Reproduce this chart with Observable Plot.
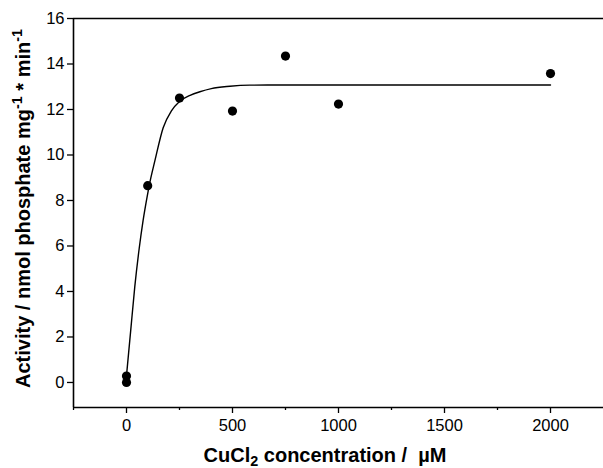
<!DOCTYPE html>
<html><head><meta charset="utf-8">
<script src="https://cdn.jsdelivr.net/npm/d3@7"></script>
<script src="https://cdn.jsdelivr.net/npm/@observablehq/plot@0.6"></script>
<style>body{margin:0;background:#fff}#chart svg{display:block}</style>
</head><body><div id="chart"></div>
<script>
// measured data points
const concentration = [0, 0, 100, 250, 500, 750, 1000, 2000];
const activity = [0.0, 0.28, 8.65, 12.5, 11.93, 14.35, 12.24, 13.58];
// fitted curve
const fitX = [0, 20, 39, 60, 78, 100, 107, 134, 173, 212, 250, 300, 346, 400, 488, 582, 700, 1000, 1500, 2000];
const fitY = [0.3, 2.3, 4.2, 5.9, 7.1, 8.3, 8.65, 9.75, 11.2, 11.94, 12.35, 12.62, 12.78, 12.92, 13.02, 13.07, 13.08, 13.08, 13.08, 13.08];
const xTicks = [0, 500, 1000, 1500, 2000];
const xMinor = [-250, 250, 750, 1250, 1750];
const yTicks = [0, 2, 4, 6, 8, 10, 12, 14, 16];

const points = concentration.map((x, i) => ({x, y: activity[i]}));
const fit = fitX.map((x, i) => ({x, y: fitY[i]}));
const xDomain = [-250, 2250];
const yDomain = [-1.1, 16];

const plot = Plot.plot({
  width: 603, height: 468,
  marginLeft: 73, marginRight: 0, marginTop: 18, marginBottom: 61,
  style: {fontFamily: "Liberation Sans, Arial, sans-serif", fontSize: "16.5px", color: "#000", background: "#fff"},
  x: {domain: xDomain},
  y: {domain: yDomain},
  marks: [
    Plot.axisX({ticks: xTicks, tickFormat: "d", tickSize: 6, tickPadding: 6, label: null, stroke: "#000", strokeWidth: 1.3, fontSize: 16.5}),
    Plot.axisX({ticks: xMinor, tickSize: 3, tickFormat: () => "", label: null, stroke: "#000", strokeWidth: 1.3}),
    Plot.axisY({ticks: yTicks, tickFormat: "d", tickSize: 6, tickPadding: 3, label: null, stroke: "#000", strokeWidth: 1.3, fontSize: 16.5}),
    Plot.ruleY([yDomain[0]], {stroke: "#000", strokeWidth: 1.6}),
    Plot.ruleY([yDomain[1]], {stroke: "#000", strokeWidth: 1.6}),
    Plot.ruleX([xDomain[0]], {stroke: "#000", strokeWidth: 1.6}),
    Plot.line(fit, {x: "x", y: "y", curve: "monotone-x", stroke: "#000", strokeWidth: 1.4}),
    Plot.dot(points, {x: "x", y: "y", r: 4.6, fill: "#000", stroke: "none"})
  ]
});

const svg = d3.select(plot);
// y axis label with superscripts
const yl = svg.append("text")
  .attr("transform", "rotate(-90)")
  .attr("x", -208.5).attr("y", 29.5)
  .attr("text-anchor", "middle")
  .attr("font-family", "Liberation Sans, Arial, sans-serif")
  .attr("font-weight", "bold").attr("font-size", 20).attr("fill", "#000");
yl.append("tspan").text("Activity / nmol phosphate mg");
yl.append("tspan").attr("dy", "-0.5em").attr("font-size", "0.72em").text("-1");
yl.append("tspan").attr("dy", "0.36em").text(" * min");
yl.append("tspan").attr("dy", "-0.5em").attr("font-size", "0.72em").text("-1");

// x axis label with subscript
const xl = svg.append("text")
  .attr("x", 325).attr("y", 462)
  .attr("text-anchor", "middle")
  .attr("font-family", "Liberation Sans, Arial, sans-serif")
  .attr("font-weight", "bold").attr("font-size", 20).attr("fill", "#000")
  .style("white-space", "pre");
xl.append("tspan").text("CuCl");
xl.append("tspan").attr("dy", "0.3em").attr("font-size", "0.72em").text("2");
xl.append("tspan").attr("dy", "-0.216em").text(" concentration /\u00a0\u00a0\u00b5M");

document.getElementById("chart").appendChild(plot);
</script>
</body></html>
